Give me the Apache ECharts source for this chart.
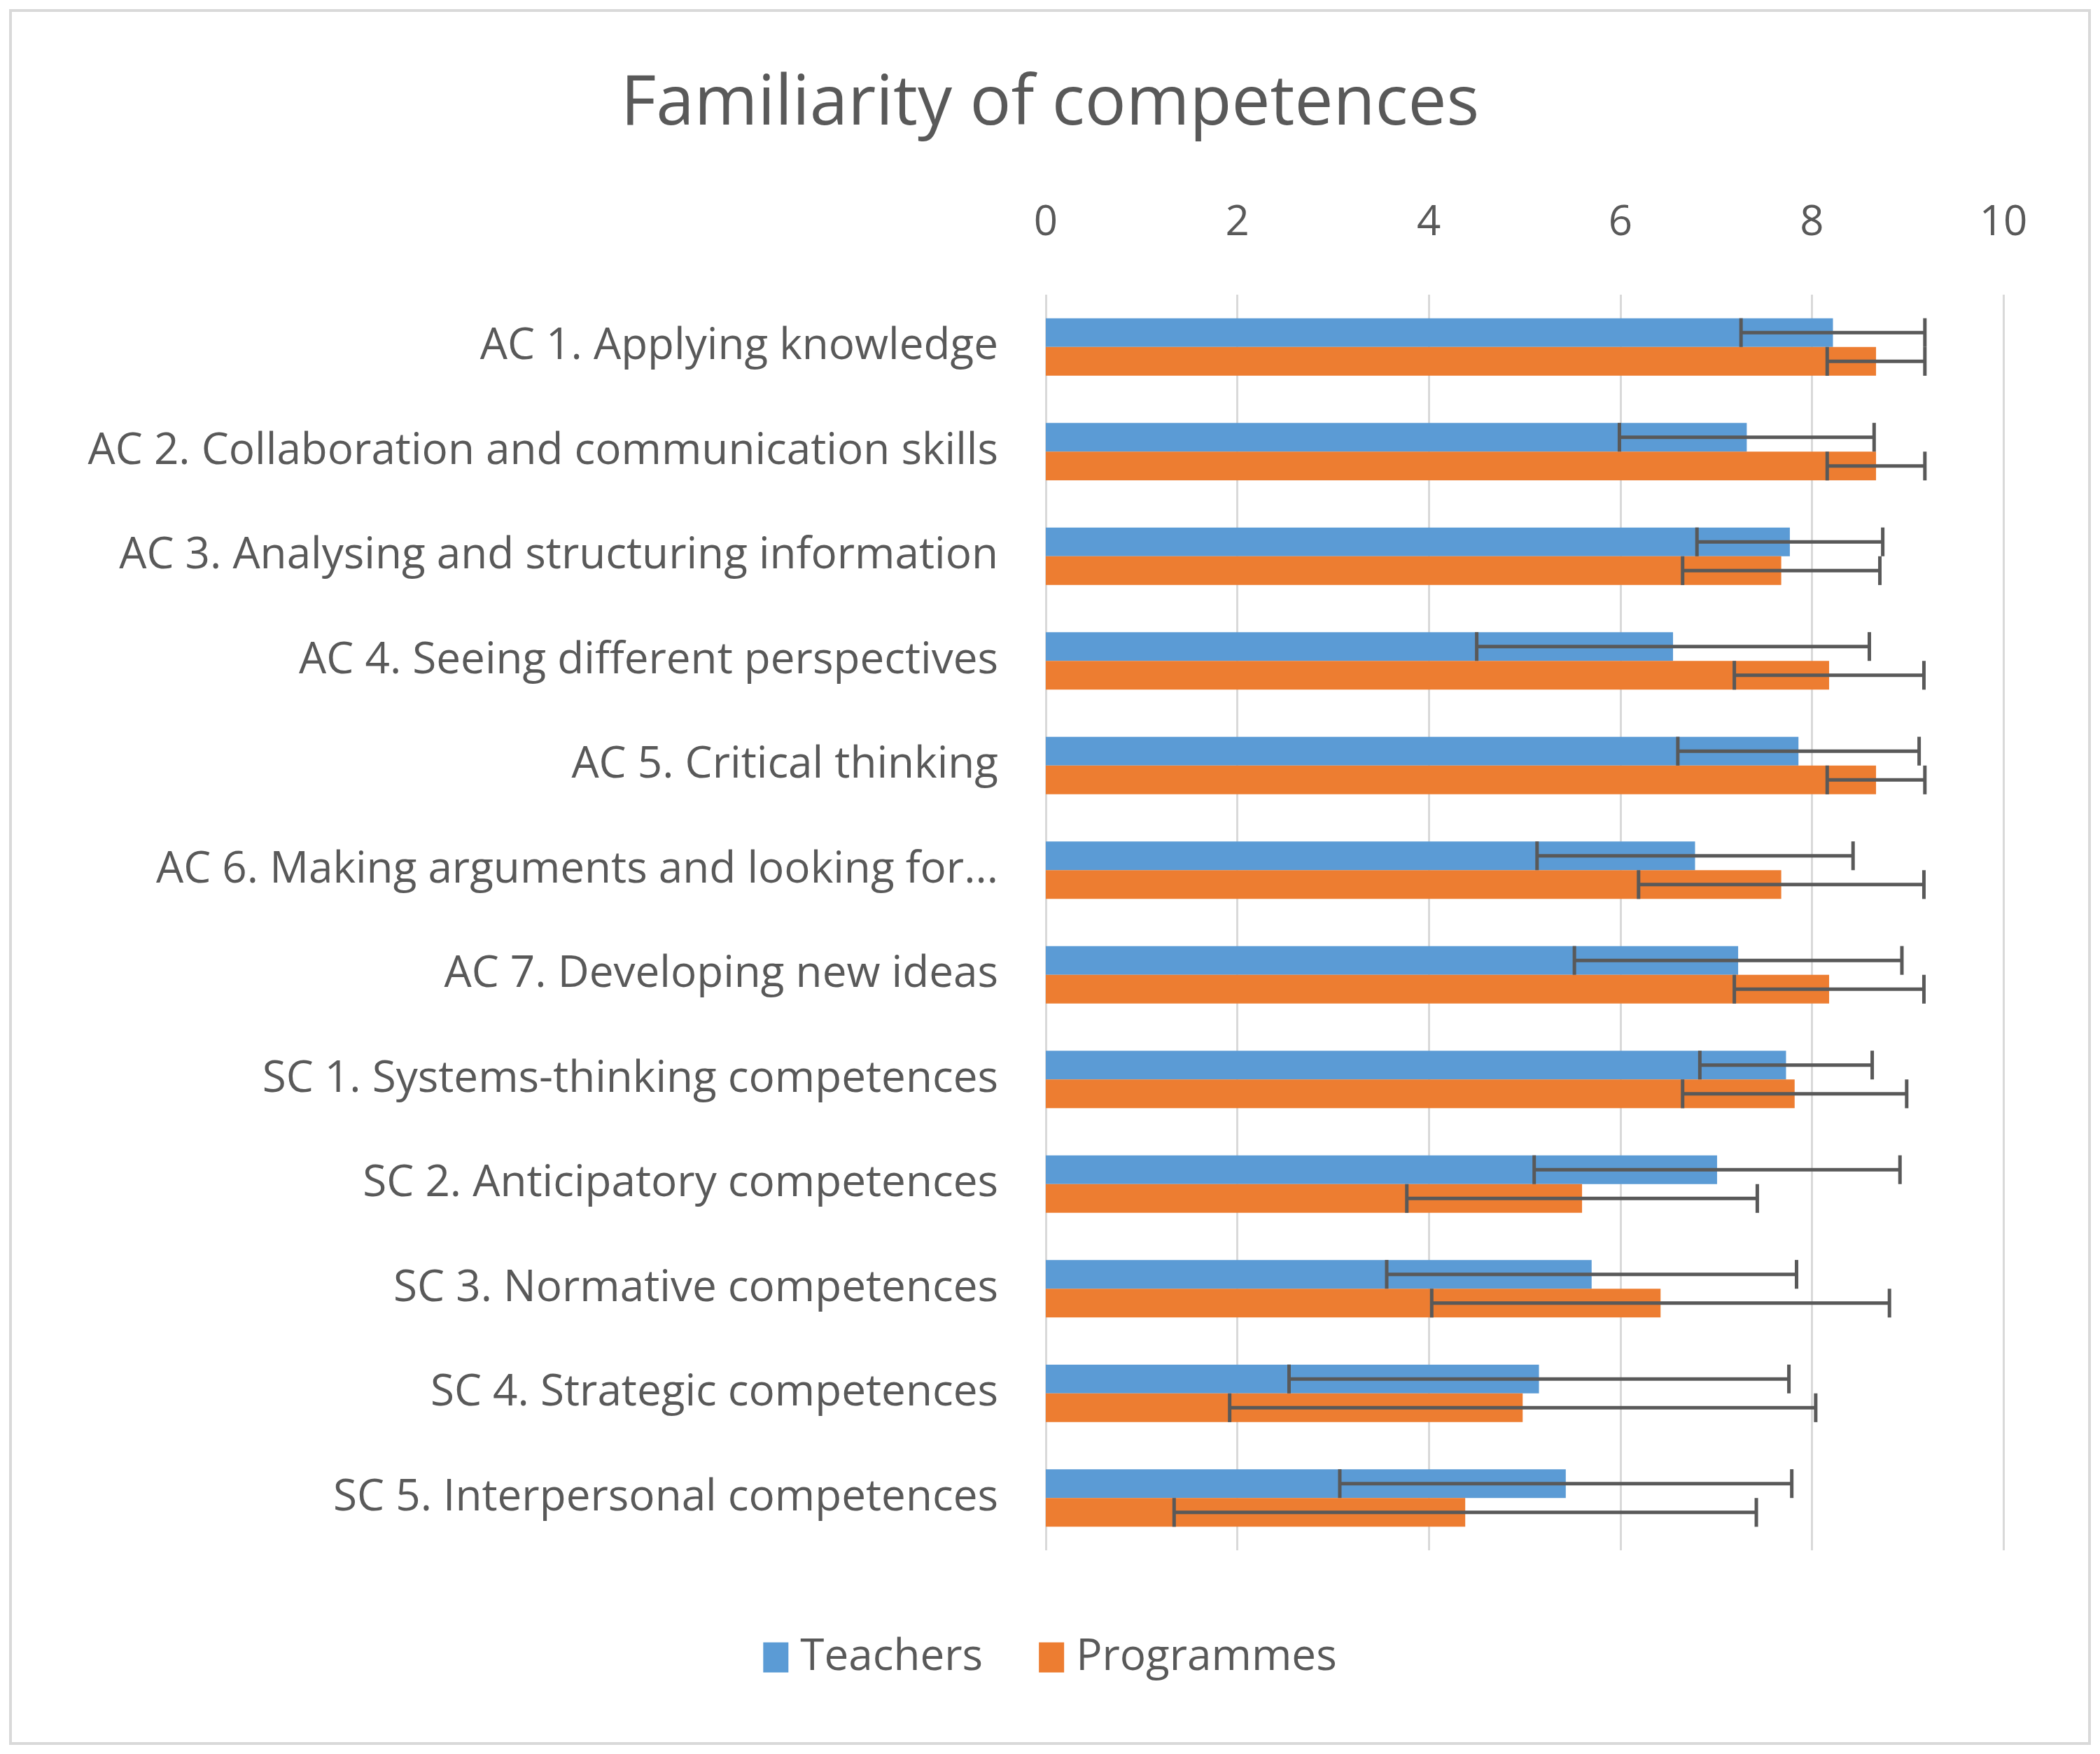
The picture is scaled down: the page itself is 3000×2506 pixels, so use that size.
<!DOCTYPE html>
<html>
<head>
<meta charset="utf-8">
<script src="https://cdn.jsdelivr.net/npm/echarts@6/dist/echarts.min.js"></script>
<style>
  html, body { margin: 0; padding: 0; background: #fff; }
  #frame { position: absolute; left: 13px; top: 13px; width: 2966px; height: 2472px; border: 4px solid #d9d9d9; }
  #chart { position: absolute; left: 0; top: 0; width: 3000px; height: 2506px; }
</style>
</head>
<body>
<div id="frame"></div>
<div id="chart"></div>
<script>
var categories = [
  'AC 1. Applying knowledge',
  'AC 2. Collaboration and communication skills',
  'AC 3. Analysing and structuring information',
  'AC 4. Seeing different perspectives',
  'AC 5. Critical thinking',
  'AC 6. Making arguments and looking for...',
  'AC 7. Developing new ideas',
  'SC 1. Systems-thinking competences',
  'SC 2. Anticipatory competences',
  'SC 3. Normative competences',
  'SC 4. Strategic competences',
  'SC 5. Interpersonal competences'
];
var teachers =      [8.22, 7.32, 7.77, 6.55, 7.86, 6.78, 7.23, 7.73, 7.01, 5.70, 5.15, 5.43];
var teachersErr =   [0.96, 1.33, 0.97, 2.05, 1.26, 1.65, 1.71, 0.90, 1.91, 2.14, 2.61, 2.36];
var programmes =    [8.67, 8.67, 7.68, 8.18, 8.67, 7.68, 8.18, 7.82, 5.60, 6.42, 4.98, 4.38];
var programmesErr = [0.51, 0.51, 1.03, 0.99, 0.51, 1.49, 0.99, 1.17, 1.83, 2.39, 3.06, 3.04];

var font = '"Open Sans", Lato, sans-serif';
var textColor = '#595959';
var gapRatio = 0.45;

function errData(means, errs) {
  return means.map(function (m, i) {
    return [i, m - errs[i], m + errs[i]];
  });
}

function errRenderer(side) {
  return function (params, api) {
    var cat = api.value(0);
    var p0 = api.coord([api.value(1), cat]);
    var p1 = api.coord([api.value(2), cat]);
    var band = api.size([0, 1])[1];
    var barH = band * (1 - gapRatio) / 2;
    var y = p0[1] + side * barH / 2;
    var half = barH / 2;
    var style = { stroke: '#595959', lineWidth: 5 };
    return {
      type: 'group',
      children: [
        { type: 'line', shape: { x1: p0[0], y1: y, x2: p1[0], y2: y }, style: style },
        { type: 'line', shape: { x1: p0[0], y1: y - half, x2: p0[0], y2: y + half }, style: style },
        { type: 'line', shape: { x1: p1[0], y1: y - half, x2: p1[0], y2: y + half }, style: style }
      ]
    };
  };
}

var chart = echarts.init(document.getElementById('chart'));
var option = {
  animation: false,
  textStyle: { fontFamily: font },
  title: {
    text: 'Familiarity of competences',
    left: 'center',
    top: 96,
    textStyle: { fontFamily: font, fontSize: 98, fontWeight: 'normal', color: textColor }
  },
  legend: {
    bottom: 102,
    left: 'center',
    icon: 'rect',
    itemWidth: 36,
    itemHeight: 43,
    itemGap: 80,
    data: ['Teachers', 'Programmes'],
    textStyle: { fontFamily: font, fontSize: 62, color: textColor, padding: [0, 0, 0, 12] }
  },
  grid: { left: 1494, right: 138, top: 421, bottom: 291 },
  xAxis: {
    type: 'value',
    position: 'top',
    min: 0,
    max: 10,
    interval: 2,
    axisLine: { show: false },
    axisTick: { show: false },
    splitLine: { lineStyle: { color: '#d9d9d9', width: 3 } },
    axisLabel: { fontFamily: font, fontSize: 60, color: textColor, margin: 72 }
  },
  yAxis: {
    type: 'category',
    inverse: true,
    data: categories,
    axisLine: { show: false },
    axisTick: { show: false },
    axisLabel: { fontFamily: font, fontSize: 62, color: textColor, margin: 68 }
  },
  series: [
    {
      name: 'Teachers',
      type: 'bar',
      data: teachers,
      barGap: 0,
      barCategoryGap: (gapRatio * 100) + '%',
      itemStyle: { color: '#5b9bd5' },
      z: 2
    },
    {
      name: 'Programmes',
      type: 'bar',
      data: programmes,
      barGap: 0,
      barCategoryGap: (gapRatio * 100) + '%',
      itemStyle: { color: '#ed7d31' },
      z: 2
    },
    {
      type: 'custom',
      renderItem: errRenderer(-1),
      data: errData(teachers, teachersErr),
      encode: { y: 0, x: [1, 2] },
      z: 5,
      silent: true
    },
    {
      type: 'custom',
      renderItem: errRenderer(1),
      data: errData(programmes, programmesErr),
      encode: { y: 0, x: [1, 2] },
      z: 5,
      silent: true
    }
  ]
};
chart.setOption(option);
</script>
</body>
</html>
